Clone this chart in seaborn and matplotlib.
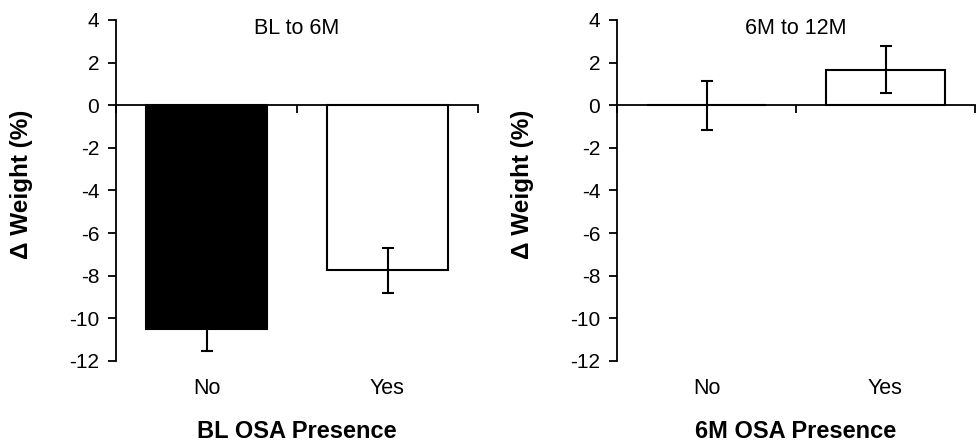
import numpy as np
import matplotlib
matplotlib.use('Agg')
import matplotlib.pyplot as plt
import matplotlib.transforms as mtrans
import seaborn as sns
import pandas as pd

# valores
grupos = ['No', 'Yes']
bl_6m = [-10.5, -7.75]
bl_6m_err = [1.05, 1.05]
m6_12m = [0.0, 1.66]
m6_12m_err = [1.14, 1.1]
titulos = ['BL to 6M', '6M to 12M']
xlabels = ['BL OSA Presence', '6M OSA Presence']
cores = [['black', 'white'], ['white', 'white']]

sns.set_theme(style='white')
plt.rcParams['font.family'] = ['Liberation Sans', 'DejaVu Sans']
plt.rcParams['text.color'] = 'black'
plt.rcParams['axes.labelcolor'] = 'black'
plt.rcParams['xtick.color'] = 'black'
plt.rcParams['ytick.color'] = 'black'

fig = plt.figure(figsize=(9.76, 4.47), dpi=100)
ax1 = fig.add_axes([116 / 976, 0.1924, 362 / 976, 0.7629])
ax2 = fig.add_axes([617 / 976, 0.1924, 358 / 976, 0.7629])

valores = [bl_6m, m6_12m]
erros = [bl_6m_err, m6_12m_err]

for i, ax in enumerate([ax1, ax2]):
    df = pd.DataFrame({'grupo': grupos, 'valor': valores[i]})
    sns.barplot(data=df, x='grupo', y='valor', hue='grupo', palette=cores[i],
                width=0.67, edgecolor='black', linewidth=1.5, legend=False, ax=ax)
    ax.errorbar(x=np.arange(len(grupos)), y=valores[i], yerr=erros[i], fmt='none',
                ecolor='black', elinewidth=1.5, capsize=4.5, capthick=1.5)

    ax.set_ylim(-12, 4)
    ax.set_xlim(-0.5, 1.5)
    ax.set_yticks(np.arange(-12, 5, 2))
    ax.set_yticklabels([str(v) for v in range(-12, 5, 2)], fontsize=15)
    ax.set_xticks([-0.5, 0.5, 1.5])
    ax.set_xticklabels(['', '', ''])

    ax.spines['top'].set_visible(False)
    ax.spines['right'].set_visible(False)
    ax.spines['bottom'].set_position(('data', 0))
    for s in ['left', 'bottom']:
        ax.spines[s].set_linewidth(1.3)
        ax.spines[s].set_color('black')
    ax.tick_params(axis='y', direction='out', length=6, width=1.3, color='black', pad=6, left=True)
    ax.tick_params(axis='x', direction='out', length=6, width=1.3, color='black', bottom=True)

    # rotulos das categorias abaixo do grafico
    trans = mtrans.blended_transform_factory(ax.transData, ax.transAxes)
    for j, g in enumerate(grupos):
        ax.text(j, -0.082, g, transform=trans, ha='center', va='center', fontsize=15.5)

    largura = ax.get_position().width * 976
    ax.set_xlabel(xlabels[i], fontsize=17, fontweight='bold')
    ax.xaxis.set_label_coords(0.5, -0.172)
    ax.set_ylabel('Δ Weight (%)', fontsize=17.5, fontweight='bold')
    ax.yaxis.set_label_coords(-83 / largura, 0.518)
    ax.text(0.5, 0.975, titulos[i], transform=ax.transAxes, ha='center', va='center', fontsize=15.5)

fig.savefig('out.png', dpi=100)
